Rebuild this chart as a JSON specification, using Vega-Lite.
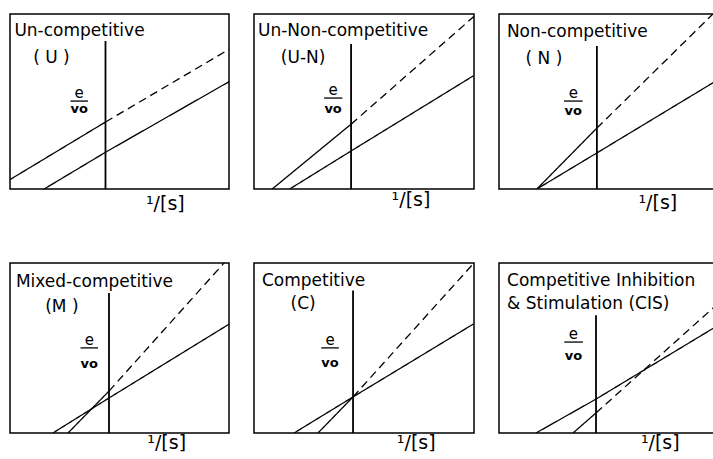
{
  "$schema": "https://vega.github.io/schema/vega-lite/v6.json",
  "padding": {"left": 9, "top": 13, "right": 0, "bottom": 0},
  "background": "white",
  "data": {"values": [
    {"k":"line","panel":"U","seg":"a","dash":"solid","x":-4.5,"y":0.35},
    {"k":"line","panel":"U","seg":"a","dash":"solid","x":0,"y":3.1},
    {"k":"line","panel":"U","seg":"b","dash":"dashed","x":0,"y":3.1},
    {"k":"line","panel":"U","seg":"b","dash":"dashed","x":5.7,"y":6.5},
    {"k":"line","panel":"U","seg":"c","dash":"solid","x":-2.8,"y":0},
    {"k":"line","panel":"U","seg":"c","dash":"solid","x":0,"y":1.7},
    {"k":"line","panel":"U","seg":"c","dash":"solid","x":5.7,"y":5.0},

    {"k":"line","panel":"U-N","seg":"a","dash":"solid","x":-3.6,"y":0},
    {"k":"line","panel":"U-N","seg":"a","dash":"solid","x":0,"y":3.0},
    {"k":"line","panel":"U-N","seg":"b","dash":"dashed","x":0,"y":3.0},
    {"k":"line","panel":"U-N","seg":"b","dash":"dashed","x":5.6,"y":7.98},
    {"k":"line","panel":"U-N","seg":"c","dash":"solid","x":-2.8,"y":0},
    {"k":"line","panel":"U-N","seg":"c","dash":"solid","x":0,"y":1.76},
    {"k":"line","panel":"U-N","seg":"c","dash":"solid","x":5.6,"y":5.25},

    {"k":"line","panel":"N","seg":"a","dash":"solid","x":-2.74,"y":0},
    {"k":"line","panel":"N","seg":"a","dash":"solid","x":0,"y":2.82},
    {"k":"line","panel":"N","seg":"b","dash":"dashed","x":0,"y":2.82},
    {"k":"line","panel":"N","seg":"b","dash":"dashed","x":5.6,"y":8.4},
    {"k":"line","panel":"N","seg":"c","dash":"solid","x":-2.74,"y":0},
    {"k":"line","panel":"N","seg":"c","dash":"solid","x":0,"y":1.67},
    {"k":"line","panel":"N","seg":"c","dash":"solid","x":5.6,"y":5.1},

    {"k":"line","panel":"M","seg":"c","dash":"solid","x":-2.56,"y":0},
    {"k":"line","panel":"M","seg":"c","dash":"solid","x":0,"y":1.62},
    {"k":"line","panel":"M","seg":"c","dash":"solid","x":5.5,"y":5.05},
    {"k":"line","panel":"M","seg":"a","dash":"solid","x":-1.87,"y":0},
    {"k":"line","panel":"M","seg":"a","dash":"solid","x":0,"y":1.94},
    {"k":"line","panel":"M","seg":"b","dash":"dashed","x":0,"y":1.94},
    {"k":"line","panel":"M","seg":"b","dash":"dashed","x":5.5,"y":8.15},

    {"k":"line","panel":"C","seg":"c","dash":"solid","x":-2.69,"y":0},
    {"k":"line","panel":"C","seg":"c","dash":"solid","x":0,"y":1.67},
    {"k":"line","panel":"C","seg":"c","dash":"solid","x":5.5,"y":5.05},
    {"k":"line","panel":"C","seg":"a","dash":"solid","x":-1.6,"y":0},
    {"k":"line","panel":"C","seg":"a","dash":"solid","x":0,"y":1.67},
    {"k":"line","panel":"C","seg":"b","dash":"dashed","x":0,"y":1.67},
    {"k":"line","panel":"C","seg":"b","dash":"dashed","x":5.5,"y":7.85},

    {"k":"line","panel":"CIS","seg":"c","dash":"solid","x":-2.74,"y":0},
    {"k":"line","panel":"CIS","seg":"c","dash":"solid","x":0,"y":1.57},
    {"k":"line","panel":"CIS","seg":"c","dash":"solid","x":5.6,"y":5.0},
    {"k":"line","panel":"CIS","seg":"a","dash":"solid","x":-1.05,"y":0},
    {"k":"line","panel":"CIS","seg":"a","dash":"solid","x":0,"y":0.93},
    {"k":"line","panel":"CIS","seg":"b","dash":"dashed","x":0,"y":0.93},
    {"k":"line","panel":"CIS","seg":"b","dash":"dashed","x":5.6,"y":6.02},

    {"k":"axis","panel":"U","x":0,"y":0,"y2":6.85},
    {"k":"axis","panel":"U-N","x":0,"y":0,"y2":6.71},
    {"k":"axis","panel":"N","x":0,"y":0,"y2":6.62},
    {"k":"axis","panel":"M","x":0,"y":0,"y2":6.48},
    {"k":"axis","panel":"C","x":0,"y":0,"y2":6.6},
    {"k":"axis","panel":"CIS","x":0,"y":0,"y2":5.45},

    {"k":"bar","panel":"U","x":-1.6,"x2":-0.8,"y":4.07},
    {"k":"bar","panel":"U-N","x":-1.23,"x2":-0.4,"y":4.21},
    {"k":"bar","panel":"N","x":-1.5,"x2":-0.65,"y":4.07},
    {"k":"bar","panel":"M","x":-1.3,"x2":-0.5,"y":3.94},
    {"k":"bar","panel":"C","x":-1.45,"x2":-0.65,"y":3.94},
    {"k":"bar","panel":"CIS","x":-1.45,"x2":-0.6,"y":4.21},

    {"k":"e","panel":"U","x":-1.2,"y":4.2,"text":"e"},
    {"k":"e","panel":"U-N","x":-0.82,"y":4.34,"text":"e"},
    {"k":"e","panel":"N","x":-1.08,"y":4.2,"text":"e"},
    {"k":"e","panel":"M","x":-0.9,"y":4.07,"text":"e"},
    {"k":"e","panel":"C","x":-1.05,"y":4.07,"text":"e"},
    {"k":"e","panel":"CIS","x":-1.03,"y":4.34,"text":"e"},

    {"k":"vo","panel":"U","x":-1.2,"y":3.52,"text":"vo"},
    {"k":"vo","panel":"U-N","x":-0.82,"y":3.52,"text":"vo"},
    {"k":"vo","panel":"N","x":-1.08,"y":3.43,"text":"vo"},
    {"k":"vo","panel":"M","x":-0.9,"y":3.0,"text":"vo"},
    {"k":"vo","panel":"C","x":-1.05,"y":3.06,"text":"vo"},
    {"k":"vo","panel":"CIS","x":-1.03,"y":3.38,"text":"vo"},

    {"k":"t1","panel":"U","x":-4.16,"y":7.08,"text":"Un-competitive"},
    {"k":"t1","panel":"U-N","x":-4.25,"y":7.08,"text":"Un-Non-competitive"},
    {"k":"t1","panel":"N","x":-4.11,"y":7.04,"text":"Non-competitive"},
    {"k":"t1","panel":"M","x":-4.25,"y":6.76,"text":"Mixed-competitive"},
    {"k":"t1","panel":"C","x":-4.16,"y":6.81,"text":"Competitive"},
    {"k":"t1","panel":"CIS","x":-4.06,"y":6.81,"text":"Competitive Inhibition"},
    {"k":"t1","panel":"CIS","x":-4.06,"y":5.74,"text":"& Stimulation (CIS)"},

    {"k":"t2","panel":"U","x":-2.47,"y":5.83,"text":"( U )"},
    {"k":"t2","panel":"U-N","x":-2.19,"y":5.83,"text":"(U-N)"},
    {"k":"t2","panel":"N","x":-2.42,"y":5.79,"text":"( N )"},
    {"k":"t2","panel":"M","x":-2.15,"y":5.6,"text":"(M )"},
    {"k":"t2","panel":"C","x":-2.28,"y":5.74,"text":"(C)"},

    {"k":"xl","panel":"U","x":1.85,"y":-0.95,"text":"¹/[s]"},
    {"k":"xl","panel":"U-N","x":1.85,"y":-0.8,"text":"¹/[s]"},
    {"k":"xl","panel":"N","x":1.9,"y":-0.92,"text":"¹/[s]"},
    {"k":"xl","panel":"M","x":1.75,"y":-0.72,"text":"¹/[s]"},
    {"k":"xl","panel":"C","x":2.0,"y":-0.72,"text":"¹/[s]"},
    {"k":"xl","panel":"CIS","x":2.05,"y":-0.72,"text":"¹/[s]"}
  ]},
  "columns": 3,
  "spacing": {"column": 25, "row": 74},
  "bounds": "flush",
  "concat": [
    {
      "width": 219, "height": 175,
      "transform": [{"filter": "datum.panel === 'U'"}],
      "encoding": {
        "x": {"field": "x", "type": "quantitative", "scale": {"domain": [-4.36, 5.64], "nice": false, "zero": false}, "axis": null},
        "y": {"field": "y", "type": "quantitative", "scale": {"domain": [0, 8.1], "nice": false, "zero": false}, "axis": null}
      },
      "layer": [
        {"transform": [{"filter": "datum.k === 'line'"}], "mark": {"type": "line", "clip": true, "strokeWidth": 1.3, "color": "black"}, "encoding": {"detail": {"field": "seg", "type": "nominal"}, "strokeDash": {"field": "dash", "type": "nominal", "scale": {"domain": ["solid", "dashed"], "range": [[1, 0], [8, 5]]}, "legend": null}}},
        {"transform": [{"filter": "datum.k === 'axis'"}], "mark": {"type": "rule", "strokeWidth": 1.8, "color": "black"}, "encoding": {"y2": {"field": "y2"}}},
        {"transform": [{"filter": "datum.k === 'bar'"}], "mark": {"type": "rule", "strokeWidth": 1.3, "color": "black"}, "encoding": {"x2": {"field": "x2"}}},
        {"transform": [{"filter": "datum.k === 'e'"}], "mark": {"type": "text", "align": "center", "baseline": "alphabetic", "fontSize": 15, "color": "black"}, "encoding": {"text": {"field": "text"}}},
        {"transform": [{"filter": "datum.k === 'vo'"}], "mark": {"type": "text", "align": "center", "baseline": "alphabetic", "fontSize": 13, "fontWeight": "bold", "color": "black"}, "encoding": {"text": {"field": "text"}}},
        {"transform": [{"filter": "datum.k === 't1'"}], "mark": {"type": "text", "align": "left", "baseline": "alphabetic", "fontSize": 17, "color": "black"}, "encoding": {"text": {"field": "text"}}},
        {"transform": [{"filter": "datum.k === 't2'"}], "mark": {"type": "text", "align": "center", "baseline": "alphabetic", "fontSize": 17, "color": "black"}, "encoding": {"text": {"field": "text"}}},
        {"transform": [{"filter": "datum.k === 'xl'"}], "mark": {"type": "text", "align": "left", "baseline": "alphabetic", "fontSize": 19, "color": "black"}, "encoding": {"text": {"field": "text"}}}
      ]
    },
    {
      "width": 220, "height": 175,
      "transform": [{"filter": "datum.panel === 'U-N'"}],
      "encoding": {
        "x": {"field": "x", "type": "quantitative", "scale": {"domain": [-4.43, 5.61], "nice": false, "zero": false}, "axis": null},
        "y": {"field": "y", "type": "quantitative", "scale": {"domain": [0, 8.1], "nice": false, "zero": false}, "axis": null}
      },
      "layer": [
        {"transform": [{"filter": "datum.k === 'line'"}], "mark": {"type": "line", "clip": true, "strokeWidth": 1.3, "color": "black"}, "encoding": {"detail": {"field": "seg", "type": "nominal"}, "strokeDash": {"field": "dash", "type": "nominal", "scale": {"domain": ["solid", "dashed"], "range": [[1, 0], [8, 5]]}, "legend": null}}},
        {"transform": [{"filter": "datum.k === 'axis'"}], "mark": {"type": "rule", "strokeWidth": 1.8, "color": "black"}, "encoding": {"y2": {"field": "y2"}}},
        {"transform": [{"filter": "datum.k === 'bar'"}], "mark": {"type": "rule", "strokeWidth": 1.3, "color": "black"}, "encoding": {"x2": {"field": "x2"}}},
        {"transform": [{"filter": "datum.k === 'e'"}], "mark": {"type": "text", "align": "center", "baseline": "alphabetic", "fontSize": 15, "color": "black"}, "encoding": {"text": {"field": "text"}}},
        {"transform": [{"filter": "datum.k === 'vo'"}], "mark": {"type": "text", "align": "center", "baseline": "alphabetic", "fontSize": 13, "fontWeight": "bold", "color": "black"}, "encoding": {"text": {"field": "text"}}},
        {"transform": [{"filter": "datum.k === 't1'"}], "mark": {"type": "text", "align": "left", "baseline": "alphabetic", "fontSize": 17, "color": "black"}, "encoding": {"text": {"field": "text"}}},
        {"transform": [{"filter": "datum.k === 't2'"}], "mark": {"type": "text", "align": "center", "baseline": "alphabetic", "fontSize": 17, "color": "black"}, "encoding": {"text": {"field": "text"}}},
        {"transform": [{"filter": "datum.k === 'xl'"}], "mark": {"type": "text", "align": "left", "baseline": "alphabetic", "fontSize": 19, "color": "black"}, "encoding": {"text": {"field": "text"}}}
      ]
    },
    {
      "width": 219, "height": 175,
      "transform": [{"filter": "datum.panel === 'N'"}],
      "encoding": {
        "x": {"field": "x", "type": "quantitative", "scale": {"domain": [-4.47, 5.53], "nice": false, "zero": false}, "axis": null},
        "y": {"field": "y", "type": "quantitative", "scale": {"domain": [0, 8.1], "nice": false, "zero": false}, "axis": null}
      },
      "layer": [
        {"transform": [{"filter": "datum.k === 'line'"}], "mark": {"type": "line", "clip": true, "strokeWidth": 1.3, "color": "black"}, "encoding": {"detail": {"field": "seg", "type": "nominal"}, "strokeDash": {"field": "dash", "type": "nominal", "scale": {"domain": ["solid", "dashed"], "range": [[1, 0], [8, 5]]}, "legend": null}}},
        {"transform": [{"filter": "datum.k === 'axis'"}], "mark": {"type": "rule", "strokeWidth": 1.8, "color": "black"}, "encoding": {"y2": {"field": "y2"}}},
        {"transform": [{"filter": "datum.k === 'bar'"}], "mark": {"type": "rule", "strokeWidth": 1.3, "color": "black"}, "encoding": {"x2": {"field": "x2"}}},
        {"transform": [{"filter": "datum.k === 'e'"}], "mark": {"type": "text", "align": "center", "baseline": "alphabetic", "fontSize": 15, "color": "black"}, "encoding": {"text": {"field": "text"}}},
        {"transform": [{"filter": "datum.k === 'vo'"}], "mark": {"type": "text", "align": "center", "baseline": "alphabetic", "fontSize": 13, "fontWeight": "bold", "color": "black"}, "encoding": {"text": {"field": "text"}}},
        {"transform": [{"filter": "datum.k === 't1'"}], "mark": {"type": "text", "align": "left", "baseline": "alphabetic", "fontSize": 17, "color": "black"}, "encoding": {"text": {"field": "text"}}},
        {"transform": [{"filter": "datum.k === 't2'"}], "mark": {"type": "text", "align": "center", "baseline": "alphabetic", "fontSize": 17, "color": "black"}, "encoding": {"text": {"field": "text"}}},
        {"transform": [{"filter": "datum.k === 'xl'"}], "mark": {"type": "text", "align": "left", "baseline": "alphabetic", "fontSize": 19, "color": "black"}, "encoding": {"text": {"field": "text"}}}
      ]
    },
    {
      "width": 219, "height": 170,
      "transform": [{"filter": "datum.panel === 'M'"}],
      "encoding": {
        "x": {"field": "x", "type": "quantitative", "scale": {"domain": [-4.52, 5.48], "nice": false, "zero": false}, "axis": null},
        "y": {"field": "y", "type": "quantitative", "scale": {"domain": [0, 7.87], "nice": false, "zero": false}, "axis": null}
      },
      "layer": [
        {"transform": [{"filter": "datum.k === 'line'"}], "mark": {"type": "line", "clip": true, "strokeWidth": 1.3, "color": "black"}, "encoding": {"detail": {"field": "seg", "type": "nominal"}, "strokeDash": {"field": "dash", "type": "nominal", "scale": {"domain": ["solid", "dashed"], "range": [[1, 0], [8, 5]]}, "legend": null}}},
        {"transform": [{"filter": "datum.k === 'axis'"}], "mark": {"type": "rule", "strokeWidth": 1.8, "color": "black"}, "encoding": {"y2": {"field": "y2"}}},
        {"transform": [{"filter": "datum.k === 'bar'"}], "mark": {"type": "rule", "strokeWidth": 1.3, "color": "black"}, "encoding": {"x2": {"field": "x2"}}},
        {"transform": [{"filter": "datum.k === 'e'"}], "mark": {"type": "text", "align": "center", "baseline": "alphabetic", "fontSize": 15, "color": "black"}, "encoding": {"text": {"field": "text"}}},
        {"transform": [{"filter": "datum.k === 'vo'"}], "mark": {"type": "text", "align": "center", "baseline": "alphabetic", "fontSize": 13, "fontWeight": "bold", "color": "black"}, "encoding": {"text": {"field": "text"}}},
        {"transform": [{"filter": "datum.k === 't1'"}], "mark": {"type": "text", "align": "left", "baseline": "alphabetic", "fontSize": 17, "color": "black"}, "encoding": {"text": {"field": "text"}}},
        {"transform": [{"filter": "datum.k === 't2'"}], "mark": {"type": "text", "align": "center", "baseline": "alphabetic", "fontSize": 17, "color": "black"}, "encoding": {"text": {"field": "text"}}},
        {"transform": [{"filter": "datum.k === 'xl'"}], "mark": {"type": "text", "align": "left", "baseline": "alphabetic", "fontSize": 19, "color": "black"}, "encoding": {"text": {"field": "text"}}}
      ]
    },
    {
      "width": 220, "height": 170,
      "transform": [{"filter": "datum.panel === 'C'"}],
      "encoding": {
        "x": {"field": "x", "type": "quantitative", "scale": {"domain": [-4.52, 5.52], "nice": false, "zero": false}, "axis": null},
        "y": {"field": "y", "type": "quantitative", "scale": {"domain": [0, 7.87], "nice": false, "zero": false}, "axis": null}
      },
      "layer": [
        {"transform": [{"filter": "datum.k === 'line'"}], "mark": {"type": "line", "clip": true, "strokeWidth": 1.3, "color": "black"}, "encoding": {"detail": {"field": "seg", "type": "nominal"}, "strokeDash": {"field": "dash", "type": "nominal", "scale": {"domain": ["solid", "dashed"], "range": [[1, 0], [8, 5]]}, "legend": null}}},
        {"transform": [{"filter": "datum.k === 'axis'"}], "mark": {"type": "rule", "strokeWidth": 1.8, "color": "black"}, "encoding": {"y2": {"field": "y2"}}},
        {"transform": [{"filter": "datum.k === 'bar'"}], "mark": {"type": "rule", "strokeWidth": 1.3, "color": "black"}, "encoding": {"x2": {"field": "x2"}}},
        {"transform": [{"filter": "datum.k === 'e'"}], "mark": {"type": "text", "align": "center", "baseline": "alphabetic", "fontSize": 15, "color": "black"}, "encoding": {"text": {"field": "text"}}},
        {"transform": [{"filter": "datum.k === 'vo'"}], "mark": {"type": "text", "align": "center", "baseline": "alphabetic", "fontSize": 13, "fontWeight": "bold", "color": "black"}, "encoding": {"text": {"field": "text"}}},
        {"transform": [{"filter": "datum.k === 't1'"}], "mark": {"type": "text", "align": "left", "baseline": "alphabetic", "fontSize": 17, "color": "black"}, "encoding": {"text": {"field": "text"}}},
        {"transform": [{"filter": "datum.k === 't2'"}], "mark": {"type": "text", "align": "center", "baseline": "alphabetic", "fontSize": 17, "color": "black"}, "encoding": {"text": {"field": "text"}}},
        {"transform": [{"filter": "datum.k === 'xl'"}], "mark": {"type": "text", "align": "left", "baseline": "alphabetic", "fontSize": 19, "color": "black"}, "encoding": {"text": {"field": "text"}}}
      ]
    },
    {
      "width": 219, "height": 170,
      "transform": [{"filter": "datum.panel === 'CIS'"}],
      "encoding": {
        "x": {"field": "x", "type": "quantitative", "scale": {"domain": [-4.43, 5.57], "nice": false, "zero": false}, "axis": null},
        "y": {"field": "y", "type": "quantitative", "scale": {"domain": [0, 7.87], "nice": false, "zero": false}, "axis": null}
      },
      "layer": [
        {"transform": [{"filter": "datum.k === 'line'"}], "mark": {"type": "line", "clip": true, "strokeWidth": 1.3, "color": "black"}, "encoding": {"detail": {"field": "seg", "type": "nominal"}, "strokeDash": {"field": "dash", "type": "nominal", "scale": {"domain": ["solid", "dashed"], "range": [[1, 0], [8, 5]]}, "legend": null}}},
        {"transform": [{"filter": "datum.k === 'axis'"}], "mark": {"type": "rule", "strokeWidth": 1.8, "color": "black"}, "encoding": {"y2": {"field": "y2"}}},
        {"transform": [{"filter": "datum.k === 'bar'"}], "mark": {"type": "rule", "strokeWidth": 1.3, "color": "black"}, "encoding": {"x2": {"field": "x2"}}},
        {"transform": [{"filter": "datum.k === 'e'"}], "mark": {"type": "text", "align": "center", "baseline": "alphabetic", "fontSize": 15, "color": "black"}, "encoding": {"text": {"field": "text"}}},
        {"transform": [{"filter": "datum.k === 'vo'"}], "mark": {"type": "text", "align": "center", "baseline": "alphabetic", "fontSize": 13, "fontWeight": "bold", "color": "black"}, "encoding": {"text": {"field": "text"}}},
        {"transform": [{"filter": "datum.k === 't1'"}], "mark": {"type": "text", "align": "left", "baseline": "alphabetic", "fontSize": 17, "color": "black"}, "encoding": {"text": {"field": "text"}}},
        {"transform": [{"filter": "datum.k === 't2'"}], "mark": {"type": "text", "align": "center", "baseline": "alphabetic", "fontSize": 17, "color": "black"}, "encoding": {"text": {"field": "text"}}},
        {"transform": [{"filter": "datum.k === 'xl'"}], "mark": {"type": "text", "align": "left", "baseline": "alphabetic", "fontSize": 19, "color": "black"}, "encoding": {"text": {"field": "text"}}}
      ]
    }
  ],
  "resolve": {"scale": {"x": "independent", "y": "independent", "strokeDash": "shared"}},
  "config": {
    "view": {"stroke": "black", "strokeWidth": 1.5},
    "font": "DejaVu Sans"
  }
}
